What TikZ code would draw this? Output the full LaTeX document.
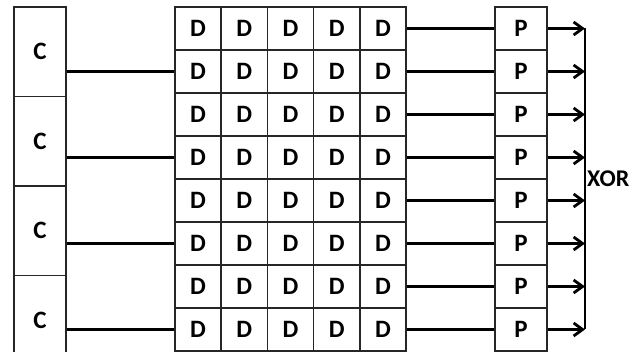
\documentclass[tikz,border=0pt]{standalone}
\usepackage{fontspec}
\newfontfamily\figfont{Carlito}
\usetikzlibrary{arrows.meta,positioning}

\begin{document}
\begin{tikzpicture}[
  x=1pt, y=-1pt,
  >={Straight Barb[length=9pt,width=13pt]},
  cell/.style  ={draw=black!85, line width=1.5pt, inner sep=0pt,
                 font=\figfont\bfseries\fontsize{25}{25}\selectfont},
  cbox/.style  ={cell, minimum width=52pt, minimum height=89.5pt},
  dcell/.style ={cell, minimum width=46.2pt, minimum height=43pt},
  pcell/.style ={cell, minimum width=52pt, minimum height=43pt},
  wire/.style  ={line width=3.8pt},
  outarrow/.style={->, line width=2.8pt},
]
  \clip (0,0) rectangle (643,352);

  % key column, one box per pair of rows
  \foreach \i in {1,...,4}
    \node[cbox] (c\i) at (40, {7+89.5*(\i-0.5)}) {C};

  % data grid and the parity column
  \foreach \i in {1,...,8}{
    \foreach \j in {1,...,5}
      \node[dcell] (d\i\j) at ({175+46.2*(\j-0.5)}, {7+43*(\i-0.5)}) {D};
    \node[pcell] (p\i) at (521, {7+43*(\i-0.5)}) {P};
  }

  % wires
  \foreach \i/\r in {1/2, 2/4, 3/6, 4/8}
    \draw[wire] (c\i.east |- d\r1.west) -- (d\r1.west);
  \foreach \i in {1,...,8}
    \draw[wire] (d\i5.east) -- (p\i.west);

  % outputs collected on the XOR bus
  \coordinate (bus) at (585, 0);
  \foreach \i in {1,...,8}
    \draw[outarrow] (p\i.east) -- (p\i.east -| bus);
  \draw[line width=2.2pt] (p1.east -| bus) -- (p8.east -| bus);
  \node[font=\figfont\bfseries\fontsize{24}{24}\selectfont, anchor=west,
        inner sep=0pt] (xor) at (587, 179) {XOR};
\end{tikzpicture}
\end{document}
